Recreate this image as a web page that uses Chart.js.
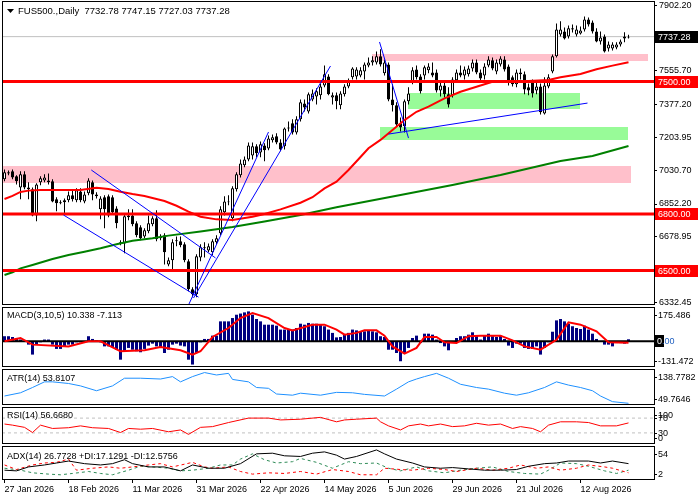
<!DOCTYPE html>
<html>
<head>
<meta charset="utf-8">
<title>FUS500 Daily</title>
<script src="https://cdn.jsdelivr.net/npm/chart.js@4.4.1/dist/chart.umd.min.js"></script>
<style>
  html, body { margin: 0; padding: 0; background: #fff; }
  #wrap { position: relative; width: 700px; height: 500px; overflow: hidden; background: #fff; }
  #wrap canvas { position: absolute; left: 0; }
</style>
</head>
<body>
<div id="wrap">
  <canvas id="main"></canvas>
  <canvas id="macd"></canvas>
  <canvas id="atr"></canvas>
  <canvas id="rsi"></canvas>
  <canvas id="adx"></canvas>
</div>
<script>
// ---- data ----
const tickDates = ['27 Jan 2026', '18 Feb 2026', '11 Mar 2026', '31 Mar 2026', '22 Apr 2026',
                   '14 May 2026', '5 Jun 2026', '29 Jun 2026', '21 Jul 2026', '12 Aug 2026'];
const tickBars = [0, 16, 32, 48, 64, 80, 96, 112, 128, 144];

const opens = [6983,7014,7025,6999,6940,7009,6940,6930,6792,6967,6977,6977,6972,6877,6856,6861,6872,6898,6872,6919,
  6866,6909,6967,6903,6824,6888,6893,6888,6829,6650,6644,6782,6792,6750,6729,6681,6708,6745,6777,6671,
  6687,6533,6555,6655,6655,6639,6549,6401,6375,6570,6618,6607,6597,6650,6697,6808,6861,6777,6930,7004,
  7057,7088,7109,7157,7125,7162,7146,7189,7210,7178,7157,7252,7279,7231,7300,7384,7342,7405,7421,7427,
  7479,7527,7416,7427,7374,7432,7474,7522,7527,7532,7553,7585,7601,7601,7633,7543,7590,7405,7374,7279,
  7263,7395,7495,7564,7527,7532,7559,7548,7548,7453,7479,7432,7427,7506,7548,7532,7538,7569,7601,7548,
  7532,7585,7612,7553,7590,7617,7580,7522,7485,7538,7538,7469,7495,7453,7474,7331,7474,7553,7633,7749,
  7765,7738,7775,7749,7754,7775,7828,7812,7765,7712,7738,7675,7675,7680,7696,7728,7732.78];
const highs = [7035,7030,7035,7004,7025,7025,6967,6940,6962,6999,7009,7014,6983,6888,6872,6882,6919,6930,6935,6935,
  6919,6988,6977,6914,6893,6898,6903,6898,6840,6660,6798,6824,6824,6761,6740,6724,6792,6787,6819,6692,
  6697,6570,6666,6681,6681,6650,6560,6412,6586,6639,6650,6644,6666,6687,6840,6893,6898,6946,7020,7088,
  7104,7178,7178,7168,7183,7173,7215,7220,7226,7194,7257,7289,7300,7316,7405,7405,7442,7458,7464,7490,
  7585,7538,7442,7442,7448,7485,7516,7575,7575,7575,7601,7627,7633,7659,7670,7617,7601,7485,7390,7310,
  7405,7469,7575,7585,7538,7585,7596,7601,7564,7495,7495,7469,7522,7564,7585,7580,7585,7617,7617,7564,
  7596,7633,7627,7617,7633,7633,7590,7532,7564,7569,7553,7490,7511,7495,7490,7522,7538,7643,7807,7818,
  7786,7796,7802,7796,7791,7844,7839,7823,7781,7765,7749,7712,7707,7707,7722,7760,7747.15];
const lows = [6972,7004,6983,6956,6877,6930,6877,6787,6761,6951,6967,6956,6861,6814,6851,6798,6861,6866,6861,6861,
  6856,6898,6872,6882,6771,6724,6782,6798,6724,6634,6592,6766,6734,6676,6660,6671,6697,6734,6655,6660,
  6533,6523,6502,6629,6623,6544,6391,6359,6359,6549,6570,6597,6581,6639,6687,6792,6845,6761,6919,6993,
  7046,7078,7088,7099,7099,7078,7136,7178,7168,7131,7141,7236,7220,7220,7289,7342,7331,7395,7379,7405,
  7469,7427,7379,7353,7353,7421,7464,7511,7511,7522,7511,7575,7585,7590,7580,7532,7395,7342,7263,7236,
  7231,7379,7485,7511,7437,7511,7543,7522,7442,7421,7416,7363,7416,7495,7522,7511,7527,7553,7538,7495,
  7511,7575,7559,7538,7580,7553,7479,7474,7469,7511,7432,7427,7416,7432,7326,7326,7464,7543,7627,7738,
  7722,7728,7759,7738,7749,7765,7791,7754,7707,7696,7654,7659,7664,7670,7685,7707,7727.03];
const closes = [7020,7020,6993,6972,7009,6940,6930,6792,6956,6988,6993,6967,6866,6856,6861,6872,6898,6877,6925,6872,
  6903,6977,6903,6893,6882,6824,6792,6808,6750,6644,6787,6792,6745,6687,6671,6713,6750,6777,6666,6681,
  6597,6555,6650,6660,6634,6555,6401,6375,6576,6623,6623,6629,6655,6671,6824,6866,6866,6935,7009,7067,
  7088,7162,7157,7120,7168,7136,7199,7205,7178,7141,7252,7257,7231,7300,7390,7363,7432,7437,7448,7474,
  7538,7432,7427,7395,7437,7474,7501,7569,7564,7559,7590,7601,7612,7633,7590,7601,7405,7374,7273,7257,
  7395,7437,7559,7522,7448,7575,7580,7532,7453,7479,7432,7379,7511,7548,7532,7564,7569,7601,7548,7516,
  7580,7617,7569,7601,7622,7564,7501,7485,7548,7548,7458,7453,7437,7474,7337,7479,7522,7633,7775,7775,
  7728,7781,7781,7775,7770,7828,7802,7765,7712,7733,7659,7696,7696,7696,7712,7738,7737.28];

const redMaBars = [0,2,4,6,9,14,19,23,26,29,32,35,37,40,43,46,49,53,57,62,65,69,74,77,80,83,86,89,91,94,97,100,103,106,110,114,118,122,131,136,139,144,148,152,156];
const redMaValues = [6879,6895,6916,6923,6926,6926,6926,6938,6932,6917,6905,6895,6884,6868,6843,6812,6785,6771,6768,6785,6799,6824,6859,6888,6935,6970,7032,7101,7147,7191,7244,7296,7340,7367,7411,7446,7472,7499,7503,7508,7522,7540,7565,7584,7602];
const greenMaBars = [0,2,4,7,12,16,20,24,28,32,37,41,49,57,65,74,83,99,112,124,139,147,156];
const greenMaValues = [6477,6491,6512,6530,6561,6583,6600,6618,6639,6658,6671,6685,6707,6731,6760,6794,6835,6900,6953,7006,7080,7106,7159];

const levelPrices = [7500, 6800, 6500];
const lastPrice = 7737.28;
const priceTicks = [7902.20, 7555.70, 7377.20, 7203.95, 7030.70, 6852.20, 6678.95, 6332.45];

const pinkZoneBars = [[91.75, 160.75], [-0.6, 156.75]];
const pinkZonePrices = [[7608, 7645], [6965, 7053]];
const greenZoneBars = [[100.75, 143.75], [93.75, 155.75]];
const greenZonePrices = [[7355, 7439], [7191, 7259]];

const trendBars = [[21.7, 52.75], [14.75, 48.5], [46, 66], [47.25, 81.5], [93.75, 101], [96, 145.75]];
const trendPrices = [[7032, 6567], [6794, 6360], [6318, 7233], [6355, 7582], [7709, 7201], [7222, 7386]];

const macdHist = [26,26,22,17,9,-3,-17,-68,-17,-5,9,9,-17,-39,-39,-26,-17,-17,-5,-5,
  -2,26,12,5,-5,-26,-26,-29,-43,-94,-51,-34,-43,-51,-56,-39,-22,-12,-26,-29,
  -60,-43,-17,-12,-22,-26,-94,-119,-60,-5,12,12,29,29,102,102,102,119,136,142,
  148,153,136,114,102,85,85,85,80,60,60,63,60,68,90,85,94,90,90,85,
  77,60,43,20,22,34,43,60,56,51,51,56,51,46,26,22,-43,-43,-60,-102,
  -60,-34,17,29,-9,39,39,34,9,-9,-26,-46,-5,17,26,26,34,46,29,9,
  29,39,26,22,29,12,-22,-34,-12,-12,-34,-39,-39,-26,-68,-34,-5,49,107,114,
  102,90,77,68,63,80,60,39,12,1,-17,-17,-26,-9,-9,-12,10.3];
const signalBars = [0,4,7,16,21,24,29,35,39,44,47,49,52,56,59,62,66,70,72,77,80,83,85,88,90,93,95,97,100,103,105,108,110,113,116,119,124,127,130,134,138,141,144,148,151,156];
const signalValues = [0,17,-17,-26,0,0,-51,-46,-29,-46,-68,-51,22,68,119,145,119,68,56,85,85,60,34,43,56,56,29,-26,-63,-34,22,22,-5,-9,26,29,29,5,-26,-43,8,97,85,51,-5,-7];

const atrBars = [0,4,7,10,12,16,19,23,27,30,34,39,42,44,47,50,53,56,57,61,63,66,68,72,74,79,83,87,90,95,98,101,103,105,108,111,114,118,121,125,128,131,135,138,141,144,147,149,152,156];
const atrValues = [72,80,93,107,107,103,97,85,97,116,116,114,120,107,120,130,124,128,113,107,93,91,77,74,79,74,81,80,76,72,89,107,114,120,128,116,101,93,89,79,74,80,93,107,99,93,85,72,58,54];

const rsiBars = [0,2,5,7,9,12,16,19,22,26,29,31,34,37,41,44,46,49,52,56,61,66,69,74,79,83,85,88,93,94,96,99,101,104,106,109,112,115,118,121,124,127,129,132,134,136,139,143,146,149,153,156];
const rsiValues = [54,51,45,31,51,42,44,49,44,42,31,42,40,42,33,38,26,45,47,58,70,70,65,67,72,60,65,67,70,60,49,38,49,54,49,54,47,49,56,51,54,42,47,42,33,51,60,60,58,49,49,57];
const rsiLevels = [70, 30];

const adxBars = [0,3,6,10,13,16,20,24,27,30,32,36,40,44,47,51,55,59,63,67,70,74,77,80,83,85,88,93,95,98,102,105,109,112,116,120,124,128,131,135,138,141,146,149,152,156];
const adxValues = [17,16,22,25,28,31,27,25,27,33,27,22,22,16,25,20,20,27,42,43,39,38,43,45,40,34,38,48,42,34,28,22,20,21,19,17,17,18,23,27,28,31,31,28,31,27];
const plusDiBars = [0,4,7,11,14,17,21,24,27,31,34,37,41,44,47,51,54,57,59,62,65,68,72,74,78,82,86,89,93,96,99,103,106,110,114,118,122,126,130,134,136,139,143,146,150,153,156];
const plusDiValues = [20,17,13,11,10,12,15,12,10,17,23,22,20,16,17,20,25,25,34,42,33,28,30,35,29,20,30,27,28,20,16,22,16,13,17,20,22,15,12,11,17,28,27,23,16,12,17];
const minusDiBars = [0,3,7,10,13,16,18,22,26,29,32,36,39,42,47,50,52,56,59,62,66,70,74,78,82,86,89,93,95,99,102,106,110,113,118,122,126,129,133,136,139,143,146,150,152,156];
const minusDiValues = [25,18,25,28,29,34,17,20,22,20,22,25,27,22,29,22,20,22,15,11,13,12,15,11,18,15,10,10,20,18,17,20,18,15,20,17,20,25,20,22,17,20,25,22,20,13];

// ---- layout ----
const X_MIN = -0.625, X_MAX = 162.375;   // 163 bar slots, 4px each
const AXIS_W = 46;
const FONT = '9px "Liberation Sans", Arial, sans-serif';
const HEADER_FONT = '9.5px "Liberation Sans", Arial, sans-serif';

Chart.defaults.font.family = '"Liberation Sans", Arial, sans-serif';
Chart.defaults.font.size = 9;
Chart.defaults.color = '#000';
Chart.defaults.animation = false;
Chart.defaults.events = [];
Chart.defaults.plugins.legend.display = false;
Chart.defaults.plugins.tooltip.enabled = false;

const pts = (xs, ys) => xs.map((x, i) => ({ x: x, y: ys[i] }));
const flat = v => [{ x: X_MIN, y: v }, { x: X_MAX, y: v }];
const barIdx = closes.map((c, i) => i);

// black frame round every panel
const framePlugin = {
  id: 'frame',
  afterDraw(chart) {
    const { ctx, chartArea: a } = chart;
    ctx.save();
    ctx.strokeStyle = '#000';
    ctx.lineWidth = 1;
    ctx.strokeRect(a.left + 0.5, a.top + 0.5, a.right - a.left, a.bottom - a.top - 1);
    ctx.restore();
  }
};

// shaded price zones
const zonePlugin = {
  id: 'zones',
  beforeDatasetsDraw(chart, args, opts) {
    if (!opts.items) return;
    const { ctx, chartArea: a, scales: { x, y } } = chart;
    ctx.save();
    ctx.beginPath();
    ctx.rect(a.left, a.top, a.right - a.left, a.bottom - a.top);
    ctx.clip();
    opts.items.forEach(z => {
      const x0 = x.getPixelForValue(z.bars[0]);
      const x1 = x.getPixelForValue(z.bars[1]);
      const y0 = y.getPixelForValue(z.prices[1]);
      const y1 = y.getPixelForValue(z.prices[0]);
      ctx.fillStyle = z.color;
      ctx.fillRect(Math.round(x0), Math.round(y0), Math.round(x1 - x0), Math.round(y1 - y0));
    });
    ctx.restore();
  }
};

// price tags on the right axis
const boxPlugin = {
  id: 'boxes',
  afterDraw(chart, args, opts) {
    if (!opts.items) return;
    const { ctx, chartArea: a, scales: { y } } = chart;
    ctx.save();
    ctx.font = FONT;
    ctx.textBaseline = 'middle';
    opts.items.forEach(b => {
      const py = Math.round(y.getPixelForValue(b.value));
      ctx.fillStyle = b.color;
      ctx.fillRect(a.right + 1, py - 6, 43, 12);
      ctx.fillStyle = '#fff';
      ctx.fillText(b.value.toFixed(2), a.right + 4, py + 0.5);
    });
    ctx.restore();
  }
};

// min / max style labels of the indicator windows
const sidePlugin = {
  id: 'side',
  afterDraw(chart, args, opts) {
    if (!opts.items) return;
    const { ctx, chartArea: a, scales: { y } } = chart;
    ctx.save();
    ctx.font = FONT;
    ctx.textBaseline = 'middle';
    ctx.strokeStyle = '#000';
    opts.items.forEach(it => {
      let py = y.getPixelForValue(it[0]);
      py = Math.round(Math.min(Math.max(py, a.top + 7.5), a.bottom - 6.5));
      ctx.beginPath();
      ctx.moveTo(a.right, py + 0.5);
      ctx.lineTo(a.right + 3, py + 0.5);
      ctx.stroke();
      if (it[2]) {
        // current value tag: first digit boxed, rest in blue
        const w0 = ctx.measureText(it[1].charAt(0)).width;
        ctx.fillStyle = '#000';
        ctx.fillRect(a.right + 1, py - 6, w0 + 4, 12);
        ctx.fillStyle = '#fff';
        ctx.fillText(it[1].charAt(0), a.right + 3, py + 0.5);
        ctx.fillStyle = '#2060c0';
        ctx.fillText(it[1].slice(1), a.right + 3 + w0, py + 0.5);
      } else {
        ctx.fillStyle = '#000';
        ctx.fillText(it[1], a.right + 4, py + 0.5);
      }
    });
    ctx.restore();
  }
};

// window captions
const captionPlugin = {
  id: 'caption',
  afterDraw(chart, args, opts) {
    if (!opts.text) return;
    const { ctx, chartArea: a } = chart;
    ctx.save();
    ctx.font = opts.font || FONT;
    ctx.fillStyle = '#000';
    ctx.textBaseline = 'middle';
    ctx.fillText(opts.text, a.left + opts.dx, a.top + opts.dy);
    if (opts.arrow) {
      const ax = a.left + 5, ay = a.top + 8;
      ctx.beginPath();
      ctx.moveTo(ax, ay);
      ctx.lineTo(ax + 7, ay);
      ctx.lineTo(ax + 3.5, ay + 4);
      ctx.closePath();
      ctx.fill();
    }
    ctx.restore();
  }
};

Chart.register(framePlugin, zonePlugin, boxPlugin, sidePlugin, captionPlugin);

function setCanvas(id, top, height) {
  const c = document.getElementById(id);
  c.width = 700;
  c.height = height;
  c.style.top = top + 'px';
  c.style.width = '700px';
  c.style.height = height + 'px';
  return c;
}

function hiddenX() {
  return { type: 'linear', min: X_MIN, max: X_MAX, display: false, offset: false };
}

function indicatorY(min, max) {
  return {
    position: 'right', min: min, max: max,
    afterFit: s => { s.width = AXIS_W; },
    ticks: { display: false },
    grid: { display: false },
    border: { display: false }
  };
}

function lineSet(data, color, width, order, dash) {
  return {
    type: 'line', data: data, borderColor: color, borderWidth: width,
    borderDash: dash || [], pointRadius: 0, tension: 0, fill: false, order: order
  };
}

// ---- main price window ----
const trendSets = trendBars.map((b, i) => lineSet(pts(b, trendPrices[i]), '#0000ff', 1, 3));
const levelSets = levelPrices.map(v => lineSet(flat(v), '#ff0000', 3, 4));

new Chart(setCanvas('main', -7, 320), {
  type: 'bar',
  data: {
    datasets: [
      lineSet(flat(lastPrice), '#c0c0c0', 1, 12),
      {
        type: 'bar', data: barIdx.map(i => ({ x: i, y: [lows[i], highs[i]] })),
        backgroundColor: '#000', grouped: false, categoryPercentage: 1, barPercentage: 0.25,
        inflateAmount: 0, order: 11
      },
      {
        type: 'bar', data: barIdx.map(i => ({ x: i, y: [opens[i], closes[i]] })),
        backgroundColor: barIdx.map(i => closes[i] >= opens[i] ? '#ffffff' : '#000000'),
        borderColor: '#000', borderWidth: 1, borderSkipped: false,
        grouped: false, categoryPercentage: 1, barPercentage: 0.75, inflateAmount: 0, order: 10
      },
      lineSet(pts(greenMaBars, greenMaValues), '#008000', 2, 6),
      lineSet(pts(redMaBars, redMaValues), '#ff0000', 2, 5)
    ].concat(levelSets, trendSets)
  },
  options: {
    responsive: false,
    layout: { padding: { left: 2, right: 0, top: 8, bottom: 8 } },
    scales: {
      x: hiddenX(),
      y: {
        position: 'right', min: 6318.2, max: 7925.7,
        afterFit: s => { s.width = AXIS_W; },
        afterBuildTicks: s => { s.ticks = priceTicks.map(v => ({ value: v })); },
        ticks: { padding: 2, color: '#000', callback: v => v.toFixed(2) },
        grid: { drawOnChartArea: false, drawTicks: true, tickLength: 3, color: '#000' },
        border: { display: false }
      }
    },
    plugins: {
      zones: {
        items: pinkZoneBars.map((b, i) => ({ bars: b, prices: pinkZonePrices[i], color: '#ffc0cb' }))
          .concat(greenZoneBars.map((b, i) => ({ bars: b, prices: greenZonePrices[i], color: '#98fb98' })))
      },
      boxes: {
        items: [{ value: lastPrice, color: '#000' }]
          .concat(levelPrices.map(v => ({ value: v, color: '#ff0000' })))
      },
      caption: {
        text: 'FUS500.,Daily  7732.78 7747.15 7727.03 7737.28', dx: 16, dy: 10,
        arrow: true, font: HEADER_FONT
      }
    }
  }
});

// ---- MACD ----
new Chart(setCanvas('macd', 306, 62), {
  type: 'bar',
  data: {
    datasets: [
      {
        type: 'bar', data: pts(barIdx, macdHist), backgroundColor: '#000080',
        grouped: false, categoryPercentage: 1, barPercentage: 0.75, inflateAmount: 0, order: 5
      },
      lineSet(flat(0), '#000', 2, 4),
      lineSet(pts(signalBars, signalValues), '#ff0000', 2, 3)
    ]
  },
  options: {
    responsive: false,
    layout: { padding: { left: 2, right: 0, top: 1, bottom: 1 } },
    scales: { x: hiddenX(), y: indicatorY(-131.472, 175.486) },
    plugins: {
      side: { items: [[175.486, '175.486'], [0, '0.00', true], [-131.472, '-131.472']] },
      caption: { text: 'MACD(3,10,5) 10.338 -7.113', dx: 5, dy: 9 }
    }
  }
});

// ---- ATR ----
new Chart(setCanvas('atr', 368, 38), {
  type: 'line',
  data: { datasets: [lineSet(pts(atrBars, atrValues), '#1e90ff', 1, 1)] },
  options: {
    responsive: false,
    layout: { padding: { left: 2, right: 0, top: 1, bottom: 1 } },
    scales: { x: hiddenX(), y: indicatorY(49.7646, 138.7782) },
    plugins: {
      side: { items: [[138.7782, '138.7782'], [49.7646, '49.7646']] },
      caption: { text: 'ATR(14) 53.8107', dx: 5, dy: 10 }
    }
  }
});

// ---- RSI ----
new Chart(setCanvas('rsi', 406, 39), {
  type: 'line',
  data: {
    datasets: rsiLevels.map(v => lineSet(flat(v), '#c0c0c0', 1, 3, [3, 3]))
      .concat([lineSet(pts(rsiBars, rsiValues), '#ff0000', 1, 1)])
  },
  options: {
    responsive: false,
    layout: { padding: { left: 2, right: 0, top: 1, bottom: 1 } },
    scales: { x: hiddenX(), y: indicatorY(0, 100) },
    plugins: {
      side: { items: [[100, '100'], [70, '70'], [30, '30'], [0, '0']] },
      caption: { text: 'RSI(14) 56.6680', dx: 5, dy: 9 }
    }
  }
});

// ---- ADX with the date axis ----
new Chart(setCanvas('adx', 445, 55), {
  type: 'line',
  data: {
    datasets: [
      lineSet(pts(plusDiBars, plusDiValues), '#2e8b57', 1, 3, [3, 3]),
      lineSet(pts(minusDiBars, minusDiValues), '#ff0000', 1, 2, [3, 3]),
      lineSet(pts(adxBars, adxValues), '#000', 1, 1)
    ]
  },
  options: {
    responsive: false,
    layout: { padding: { left: 2, right: 0, top: 1, bottom: 0 } },
    scales: {
      x: {
        type: 'linear', min: X_MIN, max: X_MAX, offset: false,
        afterBuildTicks: s => { s.ticks = tickBars.map(v => ({ value: v })); },
        afterFit: s => { s.height = 20; },
        ticks: {
          autoSkip: false, maxRotation: 0, align: 'start', padding: 1, color: '#000',
          callback: v => tickDates[tickBars.indexOf(v)]
        },
        grid: { drawOnChartArea: false, drawTicks: true, tickLength: 3, color: '#000' },
        border: { display: false }
      },
      y: indicatorY(2, 54)
    },
    plugins: {
      side: { items: [[54, '54'], [2, '2']] },
      caption: { text: 'ADX(14) 26.7728 +DI:17.1291 -DI:12.5756', dx: 5, dy: 11 }
    }
  }
});
</script>
</body>
</html>
